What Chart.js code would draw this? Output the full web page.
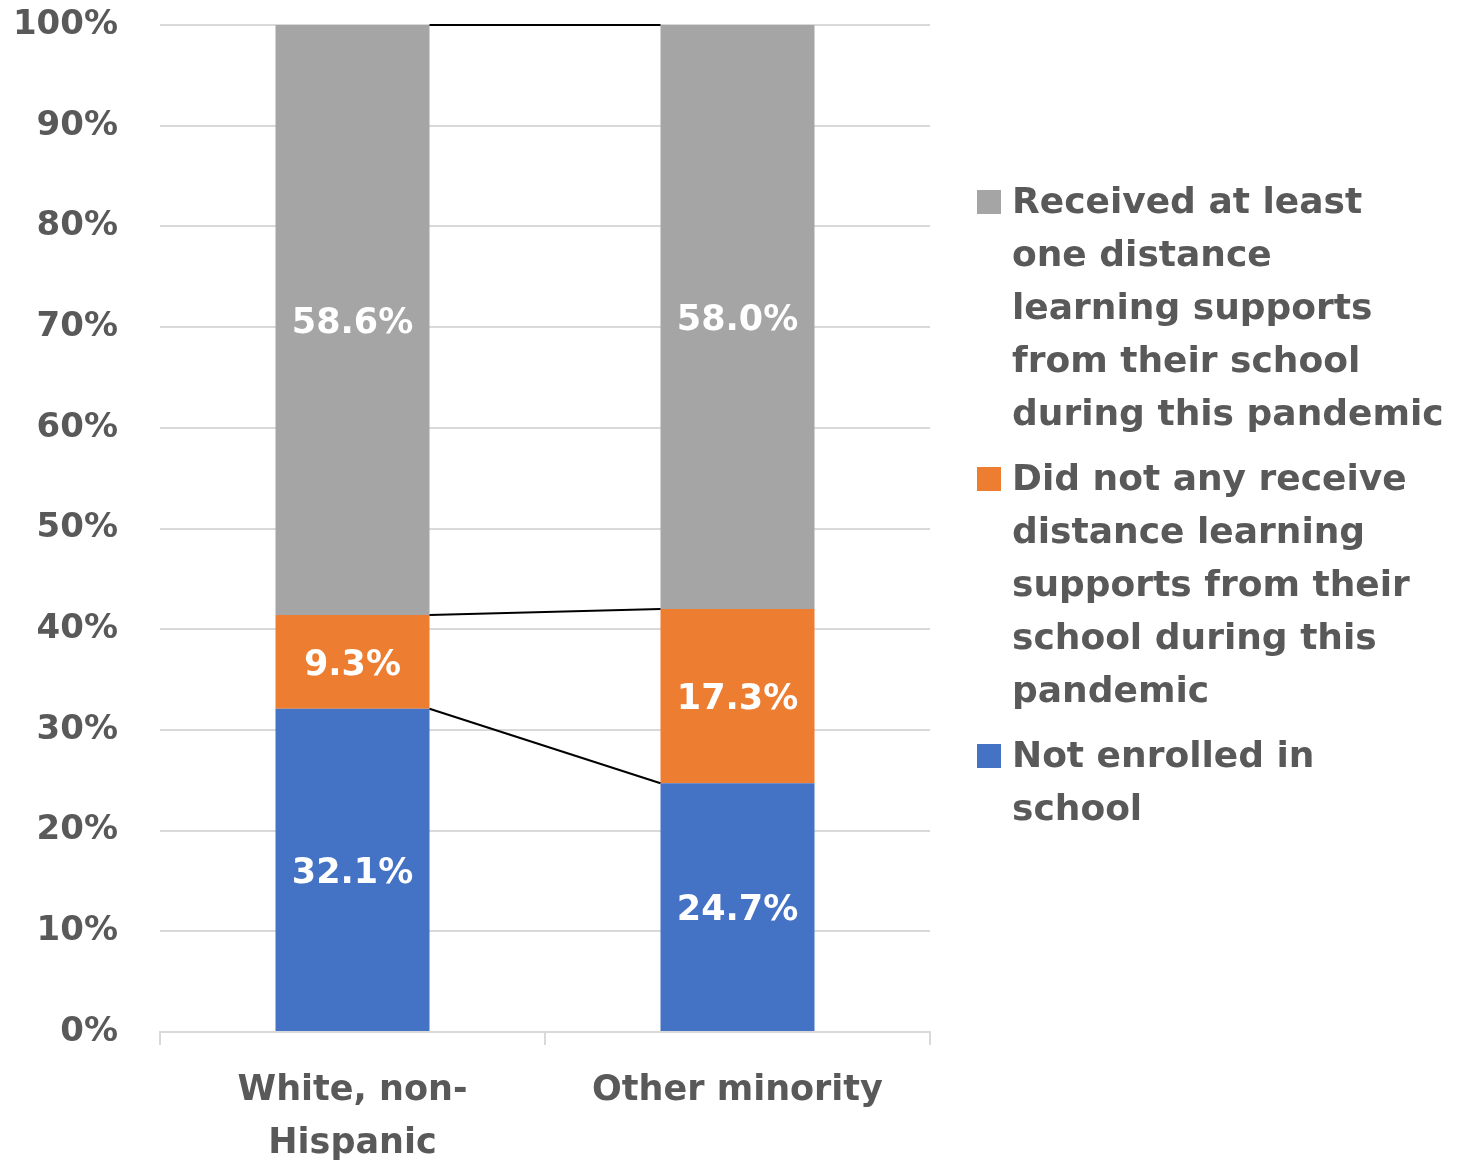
<!DOCTYPE html>
<html>
<head>
<meta charset="utf-8">
<title>Distance learning supports</title>
<script src="https://cdn.jsdelivr.net/npm/chart.js@4/dist/chart.umd.min.js"></script>
<style>
  html, body { margin: 0; padding: 0; background: #fff; }
  #wrap { width: 1473px; height: 1161px; }
</style>
</head>
<body>
<div id="wrap"><canvas id="learningChart" width="1473" height="1161"></canvas></div>
<script>
// Groups on the x axis
const categories = [["White, non-", "Hispanic"], "Other minority"];

// Share of each group (percent), bottom to top of the stack
const notEnrolled = [32.1, 24.7];
const noSupports = [9.3, 17.3];
const receivedSupports = [58.6, 58.0];

// Series names, split the way they wrap in the legend
const notEnrolledLabel = ["Not enrolled in", "school"];
const noSupportsLabel = ["Did not any receive", "distance learning", "supports from their", "school during this", "pandemic"];
const receivedLabel = ["Received at least", "one distance", "learning supports", "from their school", "during this pandemic"];

const seriesColors = ["#4472C4", "#ED7D31", "#A5A5A5"];

const FONT = "'DejaVu Sans', sans-serif";
const TEXT_COLOR = "#595959";
const GRID_COLOR = "#D9D9D9";

// Thin black lines joining the top of each segment across the bars
const seriesLinesPlugin = {
  id: "seriesLines",
  afterDatasetsDraw(chart) {
    const ctx = chart.ctx;
    ctx.save();
    ctx.strokeStyle = "#000";
    ctx.lineWidth = 2;
    chart.data.datasets.forEach((ds, i) => {
      const bars = chart.getDatasetMeta(i).data;
      for (let j = 0; j < bars.length - 1; j++) {
        const a = bars[j];
        const b = bars[j + 1];
        ctx.beginPath();
        ctx.moveTo(a.x + a.width / 2, a.y);
        ctx.lineTo(b.x - b.width / 2, b.y);
        ctx.stroke();
      }
    });
    ctx.restore();
  }
};

// Value labels centred inside each segment
const valueLabelsPlugin = {
  id: "valueLabels",
  afterDatasetsDraw(chart) {
    const ctx = chart.ctx;
    ctx.save();
    ctx.font = "bold 35px " + FONT;
    ctx.fillStyle = "#fff";
    ctx.textAlign = "center";
    ctx.textBaseline = "middle";
    chart.data.datasets.forEach((ds, i) => {
      chart.getDatasetMeta(i).data.forEach((bar, j) => {
        ctx.fillText(ds.data[j].toFixed(1) + "%", bar.x, (bar.y + bar.base) / 2 + 4);
      });
    });
    ctx.restore();
  }
};

// Legend on the right, top series first, with wrapped names
const sideLegendPlugin = {
  id: "sideLegend",
  afterDraw(chart) {
    const ctx = chart.ctx;
    const lineHeight = 53;
    const itemGap = 12;
    let y = 201;
    ctx.save();
    ctx.font = "bold 36px " + FONT;
    ctx.textAlign = "left";
    ctx.textBaseline = "middle";
    const items = chart.data.datasets.slice().reverse();
    items.forEach(ds => {
      ctx.fillStyle = ds.backgroundColor;
      ctx.fillRect(977, y - 11, 24, 24);
      ctx.fillStyle = TEXT_COLOR;
      ds.legendLines.forEach(line => {
        ctx.fillText(line, 1012, y + 3);
        y += lineHeight;
      });
      y += itemGap;
    });
    ctx.restore();
  }
};

// Drop the label overhang padding so the plot fills its box
function noScalePadding(scale) {
  scale.paddingTop = 0;
  scale.paddingBottom = 0;
  scale.paddingLeft = 0;
  scale.paddingRight = 0;
}

const ctx = document.getElementById("learningChart").getContext("2d");

new Chart(ctx, {
  type: "bar",
  data: {
    labels: categories,
    datasets: [
      {
        label: notEnrolledLabel.join(" "),
        legendLines: notEnrolledLabel,
        data: notEnrolled,
        backgroundColor: seriesColors[0]
      },
      {
        label: noSupportsLabel.join(" "),
        legendLines: noSupportsLabel,
        data: noSupports,
        backgroundColor: seriesColors[1]
      },
      {
        label: receivedLabel.join(" "),
        legendLines: receivedLabel,
        data: receivedSupports,
        backgroundColor: seriesColors[2]
      }
    ]
  },
  options: {
    responsive: false,
    animation: false,
    datasets: {
      bar: { barPercentage: 0.4, categoryPercentage: 1.0 }
    },
    layout: { padding: { top: 25, right: 543, bottom: 0, left: 0 } },
    plugins: {
      legend: { display: false },
      tooltip: { enabled: false }
    },
    scales: {
      x: {
        stacked: true,
        grid: {
          offset: true,
          drawOnChartArea: false,
          drawTicks: true,
          tickLength: 13,
          color: GRID_COLOR,
          lineWidth: 2
        },
        border: { color: GRID_COLOR, width: 2 },
        ticks: {
          color: TEXT_COLOR,
          font: { family: FONT, size: 35, weight: "bold", lineHeight: 1.5 },
          padding: 20,
          maxRotation: 0,
          autoSkip: false
        },
        afterFit(scale) {
          noScalePadding(scale);
          scale.height = 129;
        }
      },
      y: {
        stacked: true,
        min: 0,
        max: 100,
        ticks: {
          stepSize: 10,
          callback: v => v + "%",
          color: TEXT_COLOR,
          font: { family: FONT, size: 34, weight: "bold" },
          padding: 42
        },
        grid: { color: GRID_COLOR, lineWidth: 2, drawTicks: false },
        border: { display: false },
        afterFit(scale) {
          noScalePadding(scale);
          scale.width = 160;
        }
      }
    }
  },
  plugins: [seriesLinesPlugin, valueLabelsPlugin, sideLegendPlugin]
});
</script>
</body>
</html>
